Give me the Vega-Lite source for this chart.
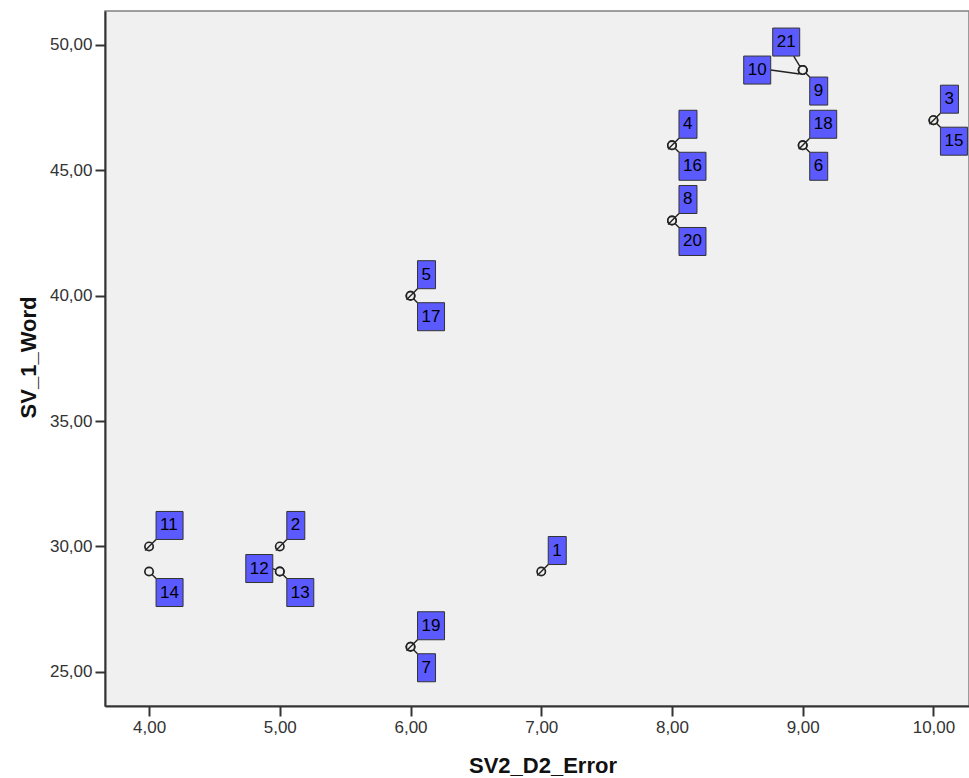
{
  "$schema": "https://vega.github.io/schema/vega-lite/v6.json",
  "width": 864,
  "height": 695,
  "autosize": "none",
  "padding": {"left": 105, "top": 11, "right": 0, "bottom": 72},
  "background": "white",
  "config": {
    "view": {"fill": "#f0f0f0", "stroke": "#808080", "strokeWidth": 1.5},
    "font": "Liberation Sans"
  },
  "data": {
    "values": [
      {"id": 1, "x": 7, "y": 29, "pos": "NE"},
      {"id": 2, "x": 5, "y": 30, "pos": "NE"},
      {"id": 3, "x": 10, "y": 47, "pos": "NE"},
      {"id": 4, "x": 8, "y": 46, "pos": "NE"},
      {"id": 5, "x": 6, "y": 40, "pos": "NE"},
      {"id": 6, "x": 9, "y": 46, "pos": "SE"},
      {"id": 7, "x": 6, "y": 26, "pos": "SE"},
      {"id": 8, "x": 8, "y": 43, "pos": "NE"},
      {"id": 9, "x": 9, "y": 49, "pos": "SE"},
      {"id": 10, "x": 9, "y": 49, "pos": "W2"},
      {"id": 11, "x": 4, "y": 30, "pos": "NE"},
      {"id": 12, "x": 5, "y": 29, "pos": "W"},
      {"id": 13, "x": 5, "y": 29, "pos": "SE"},
      {"id": 14, "x": 4, "y": 29, "pos": "SE"},
      {"id": 15, "x": 10, "y": 47, "pos": "SE"},
      {"id": 16, "x": 8, "y": 46, "pos": "SE"},
      {"id": 17, "x": 6, "y": 40, "pos": "SE"},
      {"id": 18, "x": 9, "y": 46, "pos": "NE"},
      {"id": 19, "x": 6, "y": 26, "pos": "NE"},
      {"id": 20, "x": 8, "y": 43, "pos": "SE"},
      {"id": 21, "x": 9, "y": 49, "pos": "NW"}
    ]
  },
  "encoding": {
    "x": {
      "field": "x",
      "type": "quantitative",
      "scale": {"domain": [3.663, 10.272], "nice": false, "zero": false},
      "axis": {
        "values": [4, 5, 6, 7, 8, 9, 10],
        "labelExpr": "replace(format(datum.value, '.2f'), '.', ',')",
        "grid": false,
        "title": "SV2_D2_Error",
        "titleFontSize": 22,
        "titleFontWeight": "bold",
        "titleColor": "#111111",
        "titleX": 437.5,
        "titleY": 66,
        "titleBaseline": "alphabetic",
        "titleAlign": "center",
        "labelFontSize": 17,
        "labelColor": "#333333",
        "labelPadding": 3,
        "tickSize": 10,
        "tickWidth": 2,
        "tickColor": "#333333",
        "domainColor": "#333333",
        "domainWidth": 2
      }
    },
    "y": {
      "field": "y",
      "type": "quantitative",
      "scale": {"domain": [23.637, 51.355], "nice": false, "zero": false},
      "axis": {
        "values": [25, 30, 35, 40, 45, 50],
        "labelExpr": "replace(format(datum.value, '.2f'), '.', ',')",
        "grid": false,
        "title": "SV_1_Word",
        "titleFontSize": 22,
        "titleFontWeight": "bold",
        "titleColor": "#111111",
        "titleX": -70,
        "titleY": 346,
        "titleAngle": -90,
        "titleBaseline": "alphabetic",
        "titleAlign": "center",
        "labelFontSize": 17,
        "labelColor": "#333333",
        "labelPadding": 3,
        "tickSize": 10,
        "tickWidth": 2,
        "tickColor": "#333333",
        "domainColor": "#333333",
        "domainWidth": 2
      }
    }
  },
  "layer": [
    {
      "mark": {"type": "point", "shape": "circle", "size": 70, "filled": true, "fill": "#f0f0f0", "stroke": "#222222", "strokeWidth": 1.7, "opacity": 1}
    },
    {
      "mark": {"type": "point", "size": 4, "filled": false, "stroke": "#222222", "strokeWidth": 1.4, "opacity": 1},
      "encoding": {
        "shape": {
          "condition": [
            {"test": "datum.pos == 'NE'", "value": "M-4,4L7,-7"},
            {"test": "datum.pos == 'SE'", "value": "M3,3L7,7"},
            {"test": "datum.pos == 'W'", "value": "M-4.5,-2L-7,-3"},
            {"test": "datum.pos == 'W2'", "value": "M-32,0L-3,4"}
          ],
          "value": "M-9,-14L-3,-4"
        }
      }
    },
    {
      "mark": {"type": "point", "size": 4, "filled": true, "fill": "#5a5aff", "stroke": "#333333", "strokeWidth": 1, "opacity": 1},
      "encoding": {
        "shape": {
          "condition": [
            {"test": "datum.pos == 'NE' && datum.id < 10", "value": "M7,-35H25V-7H7Z"},
            {"test": "datum.pos == 'NE' && datum.id >= 10", "value": "M7,-35H34V-7H7Z"},
            {"test": "datum.pos == 'SE' && datum.id < 10", "value": "M7,7H25V35H7Z"},
            {"test": "datum.pos == 'SE' && datum.id >= 10", "value": "M7,7H34V35H7Z"},
            {"test": "datum.pos == 'W'", "value": "M-34,-17H-7V11H-34Z"},
            {"test": "datum.pos == 'W2'", "value": "M-59,-14H-32V14H-59Z"}
          ],
          "value": "M-30,-42H-3V-14H-30Z"
        }
      }
    },
    {
      "transform": [{"filter": "datum.pos == 'NE'"}],
      "mark": {"type": "text", "align": "left", "baseline": "middle", "dx": 11, "dy": -21, "fontSize": 17, "color": "#000000"},
      "encoding": {"text": {"field": "id", "type": "nominal"}}
    },
    {
      "transform": [{"filter": "datum.pos == 'SE'"}],
      "mark": {"type": "text", "align": "left", "baseline": "middle", "dx": 11, "dy": 21, "fontSize": 17, "color": "#000000"},
      "encoding": {"text": {"field": "id", "type": "nominal"}}
    },
    {
      "transform": [{"filter": "datum.pos == 'W'"}],
      "mark": {"type": "text", "align": "center", "baseline": "middle", "dx": -20.5, "dy": -3, "fontSize": 17, "color": "#000000"},
      "encoding": {"text": {"field": "id", "type": "nominal"}}
    },
    {
      "transform": [{"filter": "datum.pos == 'W2'"}],
      "mark": {"type": "text", "align": "center", "baseline": "middle", "dx": -45.5, "dy": 0, "fontSize": 17, "color": "#000000"},
      "encoding": {"text": {"field": "id", "type": "nominal"}}
    },
    {
      "transform": [{"filter": "datum.pos == 'NW'"}],
      "mark": {"type": "text", "align": "center", "baseline": "middle", "dx": -16.5, "dy": -28, "fontSize": 17, "color": "#000000"},
      "encoding": {"text": {"field": "id", "type": "nominal"}}
    }
  ]
}
